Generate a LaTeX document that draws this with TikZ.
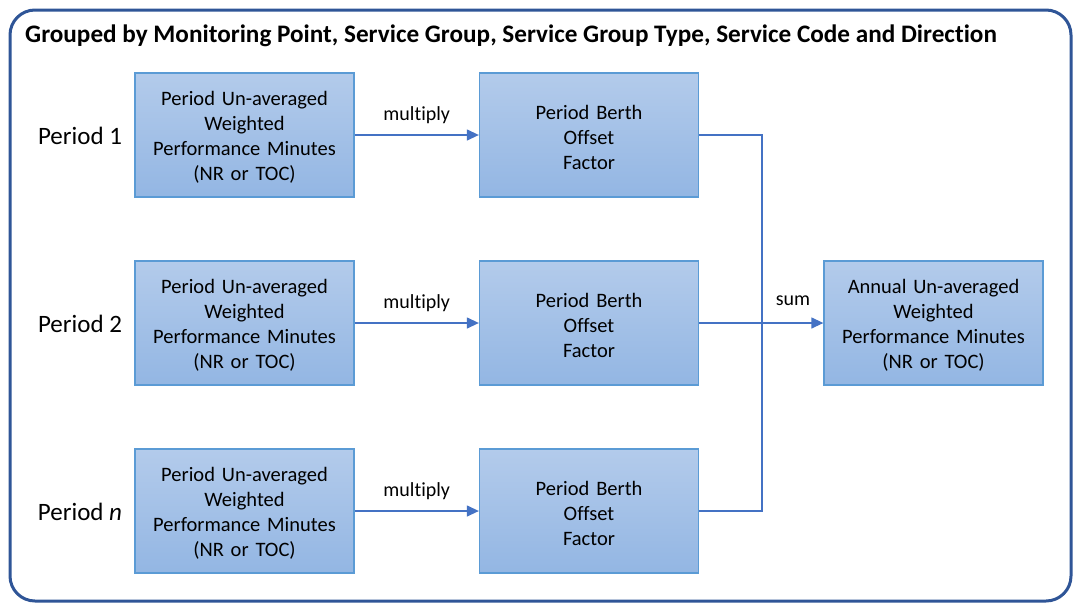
\documentclass[tikz,border=0pt]{standalone}
\usepackage{fontspec}
\setmainfont{Carlito}[Ligatures=NoCommon]
\usetikzlibrary{arrows.meta}
\definecolor{frameblue}{HTML}{2F5597}
\definecolor{boxtop}{HTML}{B3CBEB}
\definecolor{boxbot}{HTML}{93B6E3}
\definecolor{boxline}{HTML}{5B9BD5}
\definecolor{conn}{HTML}{4472C4}
\tikzset{
  frame/.style={draw=frameblue, line width=3pt, rounded corners=25pt},
  box/.style={draw=boxline, line width=1.3pt, top color=boxtop, bottom color=boxbot,
    minimum width=219pt, minimum height=124pt, text width=215pt, align=center,
    inner sep=0pt, font=\fontsize{20.5}{25}\selectfont,
    execute at begin node={\rule{0pt}{19pt}}},
  lbl/.style={font=\fontsize{20}{22}\selectfont, inner sep=0pt},
  plbl/.style={font=\fontsize{25}{28}\selectfont, inner sep=0pt},
  conn/.style={draw=conn, line width=1.3pt},
  arr/.style={conn, -{Triangle[length=12pt,width=11pt]}},
}
\begin{document}
\begin{tikzpicture}[x=1pt,y=-1pt]
\useasboundingbox (0,0) rectangle (1073,603);
\fill[white] (0,0) rectangle (1073,603);
\draw[frame] (10,10) rectangle (1071,601);
\node[anchor=west, inner sep=0pt, font=\bfseries\fontsize{25.2}{28}\selectfont] (title) at (25,36) {Grouped by Monitoring Point, Service Group, Service Group Type, Service Code and Direction};

\node[plbl] (p1) at (80,136) {Period 1};
\node[plbl] (p2) at (80,324) {Period 2};
\node[plbl] (p3) at (80,512) {Period \textit{n}};

\node[box] (L1) at (244.5,135) {Period Un-averaged\\Weighted\\Performance Minutes\\(NR or TOC)};
\node[box] (L2) at (244.5,323) {Period Un-averaged\\Weighted\\Performance Minutes\\(NR or TOC)};
\node[box] (L3) at (244.5,511) {Period Un-averaged\\Weighted\\Performance Minutes\\(NR or TOC)};

\node[box] (M1) at (589,135) {Period Berth\\Offset\\Factor};
\node[box] (M2) at (589,323) {Period Berth\\Offset\\Factor};
\node[box] (M3) at (589,511) {Period Berth\\Offset\\Factor};

\node[box] (R) at (933.5,323) {Annual Un-averaged\\Weighted\\Performance Minutes\\(NR or TOC)};

\draw[arr] (L1.east) -- node[lbl, above=11pt] (m1) {multiply} (M1.west);
\draw[arr] (L2.east) -- node[lbl, above=11pt] (m2) {multiply} (M2.west);
\draw[arr] (L3.east) -- node[lbl, above=11pt] (m3) {multiply} (M3.west);

\coordinate (j) at (762,323);
\draw[conn] (M1.east) -| (j);
\draw[conn] (M3.east) -| (j);
\draw[arr] (M2.east) -- (R.west);
\node[lbl] (sum) at (793,301) {sum};
\end{tikzpicture}
\end{document}
